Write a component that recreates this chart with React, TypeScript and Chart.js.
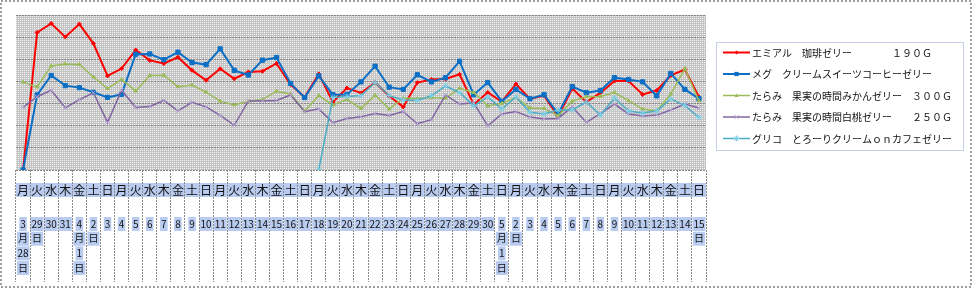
import React, { useEffect, useRef } from 'react';
import { Chart, registerables } from 'chart.js';

Chart.register(...registerables);

const weekdays = [
  '月', '火', '水', '木', '金', '土', '日',
  '月', '火', '水', '木', '金', '土', '日',
  '月', '火', '水', '木', '金', '土', '日',
  '月', '火', '水', '木', '金', '土', '日',
  '月', '火', '水', '木', '金', '土', '日',
  '月', '火', '水', '木', '金', '土', '日',
  '月', '火', '水', '木', '金', '土', '日',
];

const dateLabels: string[][] = [
  ['3', '月', '28', '日'], ['29', '日'], ['30'], ['31'], ['4', '月', '1', '日'], ['2', '日'],
  ['3'], ['4'], ['5'], ['6'], ['7'], ['8'], ['9'], ['10'], ['11'], ['12'], ['13'], ['14'],
  ['15'], ['16'], ['17'], ['18'], ['19'], ['20'], ['21'], ['22'], ['23'], ['24'], ['25'],
  ['26'], ['27'], ['28'], ['29'], ['30'], ['5', '月', '1', '日'], ['2', '日'],
  ['3'], ['4'], ['5'], ['6'], ['7'], ['8'], ['9'], ['10'], ['11'], ['12'], ['13'], ['14'], ['15', '日'],
];

const seriesNames = [
  'エミアル　珈琲ゼリー　　　　１９０Ｇ',
  'メグ　クリームスイーツコーヒーゼリー',
  'たらみ　果実の時間みかんゼリー　３００Ｇ',
  'たらみ　果実の時間白桃ゼリー　　２５０Ｇ',
  'グリコ　とろーりクリームｏｎカフェゼリー',
];

const emiaruCoffee = [0, 62.1, 66.2, 60.1, 65.9, 57.1, 42.5, 45.8, 54.2, 49.5, 48.1, 50.9, 45.0, 40.5, 45.7, 41.2, 44.3, 44.6, 48.1, 38.6, 32.9, 43.4, 30.7, 37.0, 34.8, 39.5, 33.4, 28.5, 39.5, 40.9, 41.1, 43.2, 29.6, 35.0, 30.9, 38.8, 32.1, 33.6, 24.2, 36.8, 30.7, 34.8, 40.2, 40.2, 34.1, 35.9, 42.7, 45.4, 33.0];
const megCreamSweets = [0, 33.9, 42.7, 38.1, 37.2, 35.1, 32.8, 34.2, 52.3, 52.4, 49.8, 53.2, 48.5, 47.6, 54.7, 45.0, 42.9, 49.6, 50.8, 39.1, 32.7, 42.5, 34.0, 34.1, 39.8, 46.9, 37.4, 36.4, 43.0, 39.8, 41.7, 49.1, 34.0, 39.5, 31.0, 36.4, 32.2, 34.0, 25.4, 37.7, 34.9, 35.9, 41.7, 40.9, 39.8, 33.5, 43.6, 36.4, 32.2];
const taramiMikan = [39.7, 37.5, 47.0, 47.9, 47.7, 42.0, 36.8, 40.9, 35.7, 42.7, 42.8, 37.6, 38.4, 35.2, 31.1, 29.4, 31.1, 31.8, 35.6, 34.3, 26.6, 33.6, 29.3, 31.9, 27.8, 33.8, 27.5, 32.4, 32.3, 32.7, 32.4, 36.9, 35.0, 28.9, 30.1, 32.7, 28.0, 27.8, 24.5, 31.1, 33.1, 33.2, 35.0, 31.3, 27.5, 26.6, 34.3, 45.8, 31.2];
const taramiHakuto = [28.3, 33.1, 36.0, 28.1, 31.8, 34.9, 21.5, 36.0, 28.2, 28.7, 31.4, 26.7, 30.6, 28.5, 24.7, 20.2, 31.2, 31.2, 31.4, 33.9, 26.3, 27.6, 21.4, 23.3, 24.0, 25.5, 24.6, 26.4, 20.9, 22.7, 33.9, 29.8, 30.3, 19.9, 25.3, 26.4, 23.9, 23.0, 23.3, 28.5, 21.5, 25.5, 29.8, 25.3, 24.4, 24.8, 27.1, 29.8, 28.0];
const glicoCafe = [null, null, null, null, null, null, null, null, null, null, null, null, null, null, null, null, null, null, null, null, null, 0, 32.7, 33.2, 33.6, 39.5, 33.6, 31.6, 31.4, 33.6, 37.9, 35.0, 28.9, 33.0, 27.5, 33.0, 26.1, 25.3, 27.1, 27.1, 30.7, 24.8, 32.5, 26.6, 25.7, 26.6, 32.1, 29.1, 23.7];

const yMin = 0;
const yMax = 70;
const yStep = 10;

const FONT = '"Noto Sans CJK JP", "Noto Sans CJK SC", sans-serif';

type Style = { line: string; point: string; width: number; pointStyle: any; radius: number };
const styles: Style[] = [
  { line: '#FF0000', point: '#FF0000', width: 2, pointStyle: 'rectRot', radius: 2 },
  { line: '#0B6FC6', point: '#0B6FC6', width: 2, pointStyle: 'rect', radius: 3 },
  { line: '#9BBB59', point: '#9BBB59', width: 1.5, pointStyle: 'triangle', radius: 2 },
  { line: '#8064A2', point: '#B9A6D6', width: 1.5, pointStyle: 'crossRot', radius: 3 },
  { line: '#4BACC6', point: '#7FD0E6', width: 1.5, pointStyle: 'star', radius: 3 },
];

function drawMarker(ctx: CanvasRenderingContext2D, s: Style, x: number, y: number) {
  ctx.save();
  ctx.fillStyle = s.point;
  ctx.strokeStyle = s.point;
  ctx.lineWidth = 1;
  const r = s.radius;
  ctx.beginPath();
  if (s.pointStyle === 'rect') {
    const h = r * Math.SQRT1_2;
    ctx.rect(x - h, y - h, 2 * h, 2 * h);
    ctx.fill();
  } else if (s.pointStyle === 'rectRot') {
    ctx.moveTo(x, y - r); ctx.lineTo(x + r, y); ctx.lineTo(x, y + r); ctx.lineTo(x - r, y); ctx.closePath();
    ctx.fill();
  } else if (s.pointStyle === 'triangle') {
    ctx.moveTo(x, y - r); ctx.lineTo(x + r, y + r * 0.8); ctx.lineTo(x - r, y + r * 0.8); ctx.closePath();
    ctx.fill();
  } else if (s.pointStyle === 'crossRot') {
    const d = r * Math.SQRT1_2;
    ctx.moveTo(x - d, y - d); ctx.lineTo(x + d, y + d);
    ctx.moveTo(x + d, y - d); ctx.lineTo(x - d, y + d);
    ctx.stroke();
  } else {
    const d = r * Math.SQRT1_2;
    ctx.moveTo(x - d, y - d); ctx.lineTo(x + d, y + d);
    ctx.moveTo(x + d, y - d); ctx.lineTo(x - d, y + d);
    ctx.moveTo(x, y - r); ctx.lineTo(x, y + r);
    ctx.moveTo(x - r, y); ctx.lineTo(x + r, y);
    ctx.stroke();
  }
  ctx.restore();
}

export default function App() {
  const canvasRef = useRef<HTMLCanvasElement | null>(null);

  useEffect(() => {
    const canvas = canvasRef.current;
    if (!canvas) return;
    const ctx0 = canvas.getContext('2d')!;
    const tile = document.createElement('canvas');
    tile.width = 2;
    tile.height = 2;
    const tctx = tile.getContext('2d')!;
    tctx.fillStyle = '#c3c3c3';
    tctx.fillRect(0, 0, 2, 2);
    tctx.fillStyle = '#f4f4f4';
    tctx.fillRect(0, 0, 1, 1);
    const pattern = ctx0.createPattern(tile, 'repeat');

    const highlight = '#B9CCF0';

    const decor = {
      id: 'decor',
      beforeDraw(chart: any) {
        const { ctx, chartArea: a } = chart;
        const x = chart.scales.x;
        ctx.save();
        ctx.fillStyle = '#ffffff';
        ctx.fillRect(0, 0, chart.width, chart.height);
        ctx.fillStyle = pattern as any;
        ctx.fillRect(a.left, a.top, a.right - a.left, a.bottom - a.top);
        ctx.fillStyle = highlight;
        ctx.fillRect(a.left, 183, a.right - a.left, 14);
        ctx.font = `10px ${FONT}`;
        dateLabels.forEach((lines, i) => {
          const cx = x.getPixelForValue(i);
          lines.forEach((t, j) => {
            const w = ctx.measureText(t).width;
            const cy = 224 + j * 14.7;
            ctx.fillRect(cx - w / 2 - 1, cy - 7, w + 2, 14);
          });
        });
        ctx.restore();
      },
      afterDraw(chart: any) {
        const { ctx } = chart;
        const x = chart.scales.x;
        ctx.save();
        ctx.fillStyle = '#111111';
        ctx.textAlign = 'center';
        ctx.textBaseline = 'middle';
        ctx.font = `12px ${FONT}`;
        weekdays.forEach((d, i) => {
          ctx.fillText(d, x.getPixelForValue(i), 190);
        });
        ctx.font = `10px ${FONT}`;
        dateLabels.forEach((lines, i) => {
          const cx = x.getPixelForValue(i);
          lines.forEach((t, j) => {
            ctx.fillText(t, cx, 224 + j * 14.7);
          });
        });
        ctx.setLineDash([1, 1]);
        ctx.strokeStyle = '#8E9FCC';
        ctx.lineWidth = 1;
        ctx.strokeRect(716.5, 42.5, 247, 108);
        ctx.setLineDash([]);
        ctx.textAlign = 'left';
        ctx.font = `10px ${FONT}`;
        seriesNames.forEach((name, k) => {
          const y = 52.5 + k * 21.5;
          const s = styles[k];
          ctx.strokeStyle = s.line;
          ctx.lineWidth = s.width;
          ctx.beginPath();
          ctx.moveTo(723, y);
          ctx.lineTo(750, y);
          ctx.stroke();
          drawMarker(ctx, s, 736.5, y);
          ctx.fillStyle = '#111111';
          ctx.fillText(name, 752, y + 0.5);
        });
        ctx.setLineDash([2, 2]);
        ctx.strokeStyle = '#7f7f7f';
        ctx.lineWidth = 1.5;
        ctx.strokeRect(1, 1, 970, 286);
        ctx.restore();
      },
    };

    const series = [emiaruCoffee, megCreamSweets, taramiMikan, taramiHakuto, glicoCafe];
    const datasets = series.map((data, k) => ({
      label: seriesNames[k],
      data,
      borderColor: styles[k].line,
      backgroundColor: styles[k].point,
      pointBorderColor: styles[k].point,
      pointBackgroundColor: styles[k].point,
      borderWidth: styles[k].width,
      pointStyle: styles[k].pointStyle,
      pointRadius: styles[k].radius,
      pointBorderWidth: 1,
      tension: 0,
      fill: false,
      spanGaps: false,
      order: 5 - k,
    }));

    const chart = new Chart(canvas, {
      type: 'line',
      data: { labels: weekdays.map((d, i) => d + dateLabels[i].join('')), datasets },
      options: {
        responsive: false,
        animation: false,
        devicePixelRatio: 1,
        layout: { padding: { left: 16, top: 15, right: 267, bottom: 8 } },
        plugins: { legend: { display: false }, tooltip: { enabled: false } },
        scales: {
          x: {
            type: 'category',
            offset: true,
            ticks: { display: false },
            border: { display: false },
            grid: {
              display: true,
              offset: true,
              drawOnChartArea: false,
              drawTicks: true,
              tickLength: 112,
              tickColor: '#8a8a8a',
              tickWidth: 1,
              tickBorderDash: [2, 1],
            },
          },
          y: {
            min: yMin,
            max: yMax,
            ticks: { display: false, stepSize: yStep },
            border: { display: false, dash: [2, 1] },
            grid: { color: '#858585', lineWidth: 1, drawTicks: false },
          },
        },
      },
      plugins: [decor],
    } as any);

    return () => chart.destroy();
  }, []);

  return (
    <div style={{ position: 'absolute', left: 0, top: 0, width: 973, height: 290 }}>
      <canvas ref={canvasRef} width={973} height={290} style={{ width: '973px', height: '290px', display: 'block' }} />
    </div>
  );
}
